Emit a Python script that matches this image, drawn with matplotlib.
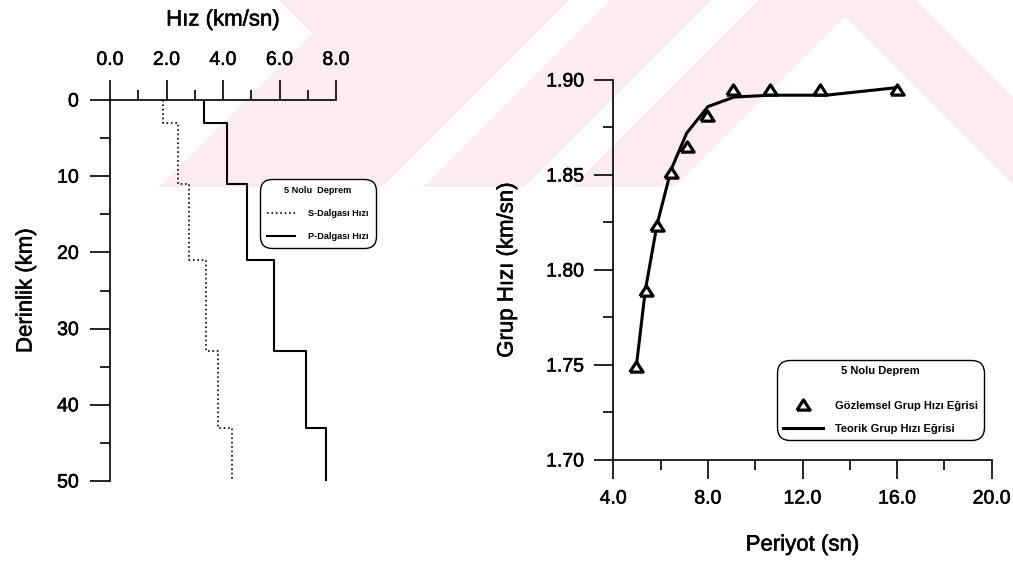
import numpy as np
import matplotlib.pyplot as plt
import matplotlib.patheffects as pe
from matplotlib.ticker import MultipleLocator, FormatStrFormatter
from matplotlib.font_manager import FontProperties

# velocity model: layer boundaries (km) and layer velocities (km/sn)
depth_edges = [0, 3, 11, 21, 33, 43, 50]
vs = [1.89, 2.42, 2.81, 3.39, 3.81, 4.31]
vp = [3.34, 4.13, 4.84, 5.81, 6.93, 7.63]

# group velocity dispersion, observed and theoretical
period_obs = [4.96, 5.38, 5.83, 6.43, 7.10, 7.97, 9.07, 10.63, 12.74, 15.98]
u_obs = [1.749, 1.789, 1.823, 1.851, 1.865, 1.881, 1.895, 1.895, 1.895, 1.895]
period_teo = [4.98, 5.35, 5.85, 6.45, 7.10, 8.00, 9.10, 10.60, 13.00, 16.00]
u_teo = [1.750, 1.789, 1.824, 1.853, 1.872, 1.886, 1.891, 1.892, 1.892, 1.896]

W, H = 1013, 564
plt.rcParams['font.family'] = ['Liberation Sans', 'DejaVu Sans']
fig = plt.figure(figsize=(W / 100, H / 100), dpi=100)

# pale pink watermark behind both panels
bg = fig.add_axes([0, 0, 1, 1], zorder=-10)
xx, yy = np.meshgrid(np.arange(W) + 0.5, np.arange(H) + 0.5)
s = xx + yy
d = xx - yy
pink = (yy <= 187) & ((d > 278) | (s > 345))
pink &= ~((s >= 570) & (s <= 610))
pink &= ~((s >= 712) & (s <= 758))
pink &= ~((s >= 862) & (d <= 828))
pink &= ~(d >= 917)
img = np.ones((H, W, 3))
img[pink] = np.array([253, 236, 239]) / 255
bg.imshow(img, extent=(0, W, H, 0), aspect='auto', interpolation='bilinear')
bg.set_axis_off()

heavy = [pe.withStroke(linewidth=0.4, foreground='k')]
narrow = ['Liberation Sans Narrow', 'Liberation Sans', 'DejaVu Sans']
fp_small = FontProperties(family=narrow, weight='bold', size=6.6)
fp_leg = FontProperties(family=narrow, weight='bold', size=8)


def thicken(ax):
    for t in ax.get_xticklabels() + ax.get_yticklabels():
        t.set_path_effects(heavy)
    ax.xaxis.label.set_path_effects(heavy)
    ax.yaxis.label.set_path_effects(heavy)


# ---- left: velocity-depth model
ax1 = fig.add_axes([110 / W, 1 - 481 / H, 226 / W, 381 / H], facecolor='none')
zz = np.repeat(depth_edges, 2)[1:-1]
s_line, = ax1.plot(np.repeat(vs, 2), zz, color='k', ls=':', lw=1.2)
p_line, = ax1.plot(np.repeat(vp, 2), zz, color='k', ls='-', lw=1.5)

ax1.set_xlim(0, 8)
ax1.set_ylim(50, 0)
ax1.xaxis.tick_top()
ax1.xaxis.set_label_position('top')
ax1.spines['right'].set_visible(False)
ax1.spines['bottom'].set_visible(False)
for sp in ('top', 'left'):
    ax1.spines[sp].set_linewidth(1.2)
ax1.xaxis.set_major_locator(MultipleLocator(2))
ax1.xaxis.set_minor_locator(MultipleLocator(1))
ax1.xaxis.set_major_formatter(FormatStrFormatter('%.1f'))
ax1.yaxis.set_major_locator(MultipleLocator(10))
ax1.yaxis.set_minor_locator(MultipleLocator(5))
ax1.tick_params(which='major', length=14.4, width=1.2, labelsize=14, pad=8)
ax1.tick_params(which='minor', length=7.2, width=1.2)

ax1.set_xlabel('Hız (km/sn)', fontsize=16)
ax1.xaxis.set_label_coords(0.5, (481 - 20) / 381)
ax1.xaxis.label.set_va('center')
ax1.set_ylabel('Derinlik (km)', fontsize=16)
ax1.yaxis.set_label_coords((26 - 110) / 226, 0.5)
ax1.yaxis.label.set_va('center')
thicken(ax1)

leg1 = ax1.legend([s_line, p_line], ['S-Dalgası Hızı', 'P-Dalgası Hızı'],
                  title='5 Nolu  Deprem', title_fontproperties=fp_small, prop=fp_small,
                  loc='upper left', bbox_to_anchor=(0.664, 0.7927), borderaxespad=0,
                  handlelength=3.1, handletextpad=1.4, labelspacing=1.55, borderpad=0.75,
                  fancybox=True, edgecolor='k', facecolor='white', framealpha=1)
leg1.get_frame().set_linewidth(1.0)
leg1.get_frame().set_boxstyle('round,pad=0,rounding_size=1.3')

# ---- right: group velocity dispersion curve
ax2 = fig.add_axes([613.3 / W, 1 - 460 / H, 378.4 / W, 380 / H], facecolor='none')
tri = [(-1, -0.7), (1, -0.7), (0, 0.85), (-1, -0.7)]
teo, = ax2.plot(period_teo, u_teo, color='k', lw=2.2, clip_on=False)
obs, = ax2.plot(period_obs, u_obs, ls='none', marker=tri, ms=9.5, mfc='white',
                mec='k', mew=2.3, clip_on=False)

ax2.set_xlim(4, 20)
ax2.set_ylim(1.70, 1.90)
ax2.spines['right'].set_visible(False)
ax2.spines['top'].set_visible(False)
for sp in ('bottom', 'left'):
    ax2.spines[sp].set_linewidth(1.2)
ax2.xaxis.set_major_locator(MultipleLocator(4))
ax2.xaxis.set_minor_locator(MultipleLocator(2))
ax2.xaxis.set_major_formatter(FormatStrFormatter('%.1f'))
ax2.yaxis.set_major_locator(MultipleLocator(0.05))
ax2.yaxis.set_minor_locator(MultipleLocator(0.025))
ax2.yaxis.set_major_formatter(FormatStrFormatter('%.2f'))
ax2.tick_params(which='major', length=14, width=1.2, labelsize=14)
ax2.tick_params(axis='y', which='major', pad=7)
ax2.tick_params(axis='x', which='major', pad=8)
ax2.tick_params(which='minor', length=7.2, width=1.2)

ax2.set_xlabel('Periyot (sn)', fontsize=16)
ax2.xaxis.set_label_coords(0.5, (460 - 545) / 380)
ax2.xaxis.label.set_va('center')
ax2.set_ylabel('Grup Hızı (km/sn)', fontsize=16)
ax2.yaxis.set_label_coords((507 - 613.3) / 378.4, 0.5)
ax2.yaxis.label.set_va('center')
thicken(ax2)

leg2 = ax2.legend([obs, teo], ['Gözlemsel Grup Hızı Eğrisi', 'Teorik Grup Hızı Eğrisi'],
                  title='5 Nolu Deprem\n', title_fontproperties=fp_leg, prop=fp_leg,
                  numpoints=1, loc='upper left', bbox_to_anchor=(0.4326, 0.263),
                  borderaxespad=0, handlelength=3.6, handletextpad=1.05,
                  labelspacing=1.17, borderpad=0.55,
                  fancybox=True, edgecolor='k', facecolor='white', framealpha=1)
leg2.get_frame().set_linewidth(1.0)
leg2.get_frame().set_boxstyle('round,pad=0,rounding_size=1.2')

fig.savefig('out.png', dpi=100)
